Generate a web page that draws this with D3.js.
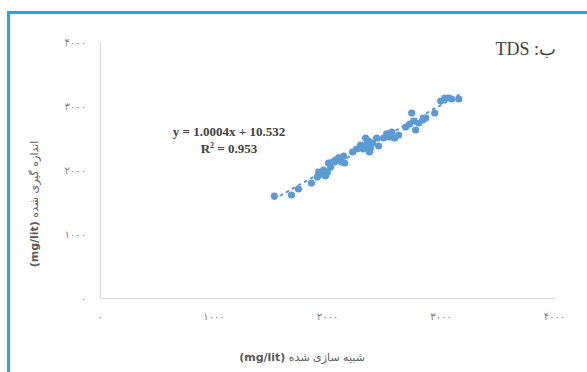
<!DOCTYPE html>
<html>
<head>
<meta charset="utf-8">
<script src="https://cdn.jsdelivr.net/npm/d3@7/dist/d3.min.js"></script>
<style>
  html, body { margin: 0; padding: 0; background: #fff; }
  svg { display: block; }
</style>
</head>
<body>
<svg id="chart" width="587" height="372"></svg>
<script>
// Simulated (x) vs measured (y) TDS, mg/lit
const simulated = [1536,1687,1748,1863,1916,1925,1951,1969,1987,2004,2031,2049,2075,2102,2128,2155,
  2225,2260,2296,2322,2349,2366,2384,2402,2437,2455,2499,2525,2552,2570,2596,2631,2693,2728,2746,
  2764,2781,2808,2843,2870,2949,3002,3038,3073,3099,3161,2340,2375,2146,2013];
const measured = [1594,1609,1703,1797,1891,1969,1938,2000,1906,1969,2047,2125,2156,2188,2125,2109,
  2281,2328,2391,2328,2406,2453,2344,2422,2500,2375,2500,2563,2516,2594,2500,2547,2672,2719,2891,
  2766,2625,2734,2781,2813,2891,3078,3125,3125,3109,3109,2500,2281,2219,2109];
const xTicks = [0, 1000, 2000, 3000, 4000];
const yTicks = [0, 1000, 2000, 3000, 4000];
const trendSlope = 1.0004;
const trendIntercept = 10.532;
const rSquared = 0.953;
const titleText = "ب: TDS";
const xTitle = "شبیه سازی شده ";
const yTitle = "اندازه گیری شده ";
const unitText = "(mg/lit)";

const faDigits = "۰۱۲۳۴۵۶۷۸۹";
const toFa = v => String(v).replace(/\d/g, c => faDigits[+c]);

const svg = d3.select("#chart");
const points = simulated.map((x, i) => ({ x, y: measured[i] }));

// Frame: blue rule along the top and left edge
svg.append("path")
  .attr("d", "M8.5,372 L8.5,12.5 L587,12.5")
  .attr("fill", "none")
  .attr("stroke", "#1aa9e2")
  .attr("stroke-width", 3);

const x = d3.scaleLinear().domain([0, 4000]).range([100, 554]);
const y = d3.scaleLinear().domain([0, 4000]).range([298, 42]);

const tickFont = "'DejaVu Sans', sans-serif";

// Y axis
const gy = svg.append("g").attr("transform", "translate(100,0)")
  .call(d3.axisLeft(y).tickValues(yTicks).tickFormat(toFa).tickSize(0).tickPadding(14));
// X axis
const gx = svg.append("g").attr("transform", "translate(0,298)")
  .call(d3.axisBottom(x).tickValues(xTicks).tickFormat(toFa).tickSize(0).tickPadding(15));

[gx, gy].forEach(g => {
  g.select(".domain").attr("stroke", "#d9d9d9").attr("stroke-width", 1.2);
  g.selectAll("text")
    .attr("fill", "#7f7f7f")
    .attr("font-family", tickFont)
    .attr("font-size", 10)
    .attr("letter-spacing", 2);
});

// Linear trend line over the data range
const xMin = d3.min(simulated), xMax = d3.max(simulated);
svg.append("line")
  .attr("x1", x(xMin)).attr("y1", y(trendSlope * xMin + trendIntercept))
  .attr("x2", x(xMax)).attr("y2", y(trendSlope * xMax + trendIntercept))
  .attr("stroke", "#5b9bd5")
  .attr("stroke-width", 2)
  .attr("stroke-dasharray", "2,5")
  .attr("stroke-linecap", "round");

// Scatter points
svg.append("g").selectAll("circle").data(points).join("circle")
  .attr("cx", d => x(d.x))
  .attr("cy", d => y(d.y))
  .attr("r", 3.6)
  .attr("fill", "#5b9bd5");

// Regression equation
const eq = svg.append("g")
  .attr("font-family", "'Liberation Serif', 'Times New Roman', serif")
  .attr("font-weight", "bold")
  .attr("font-size", 13)
  .attr("fill", "#404040")
  .attr("text-anchor", "middle");
eq.append("text").attr("x", 229).attr("y", 136)
  .text(`y = ${trendSlope.toFixed(4)}x + ${trendIntercept}`);
const r2 = eq.append("text").attr("x", 229).attr("y", 153);
r2.append("tspan").text("R");
r2.append("tspan").attr("font-size", 8).attr("dy", -5).text("2");
r2.append("tspan").attr("dy", 5).text(` = ${rSquared}`);

// Panel title
svg.append("text")
  .attr("x", 556).attr("y", 55)
  .attr("direction", "rtl")
  .attr("text-anchor", "start")
  .attr("font-family", "'Liberation Serif', 'Times New Roman', serif")
  .attr("font-size", 18)
  .attr("fill", "#404040")
  .text(titleText);

// Axis titles
function axisTitle(sel, main) {
  sel.attr("direction", "rtl")
    .attr("text-anchor", "middle")
    .attr("font-family", "'DejaVu Sans', sans-serif")
    .attr("font-size", 11)
    .attr("fill", "#595959");
  sel.append("tspan").text(main);
  sel.append("tspan").attr("font-weight", "bold").text(unitText);
}
svg.append("text").attr("x", 302).attr("y", 361).call(axisTitle, xTitle);
svg.append("text")
  .attr("transform", "translate(38,204) rotate(-90)")
  .call(axisTitle, yTitle);
</script>
</body>
</html>
